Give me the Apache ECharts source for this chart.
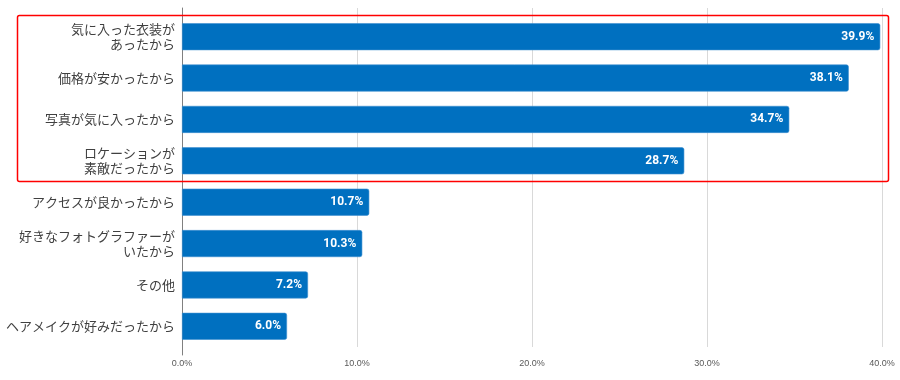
<!DOCTYPE html>
<html>
<head>
<meta charset="utf-8">
<script src="https://cdn.jsdelivr.net/npm/echarts@6/dist/echarts.min.js"></script>
<style>
html,body{margin:0;padding:0;background:#fff;}
#chart{width:900px;height:380px;}
</style>
</head>
<body>
<div id="chart"></div>
<script>
const categories = [
  "気に入った衣装が\nあったから",
  "価格が安かったから",
  "写真が気に入ったから",
  "ロケーションが\n素敵だったから",
  "アクセスが良かったから",
  "好きなフォトグラファーが\nいたから",
  "その他",
  "ヘアメイクが好みだったから"
];
const values = [39.9, 38.1, 34.7, 28.7, 10.7, 10.3, 7.2, 6.0];
const xTicks = [0, 10, 20, 30, 40];

const chart = echarts.init(document.getElementById('chart'), null, {renderer: 'canvas'});
const cjk = '"Noto Sans CJK JP", "Noto Sans", sans-serif';
const L = 182, R = 18;

chart.setOption({
  animation: false,
  backgroundColor: '#ffffff',
  grid: [
    {left: L, right: R, top: 16, bottom: 33, containLabel: false},
    {left: L, right: R, top: 8, bottom: 33, containLabel: false},
    {left: L, right: R, top: 8, bottom: 25, containLabel: false}
  ],
  xAxis: [
    {
      gridIndex: 0, type: 'value', min: xTicks[0], max: xTicks[xTicks.length-1], interval: 10,
      axisLine: {show: false}, axisTick: {show: false}, splitLine: {show: false},
      axisLabel: {
        margin: 12, fontSize: 9, color: '#595959',
        fontFamily: '"Liberation Sans Narrow", "Liberation Sans", sans-serif',
        formatter: v => v.toFixed(1) + '%'
      }
    },
    {
      gridIndex: 1, type: 'value', min: xTicks[0], max: xTicks[xTicks.length-1], interval: 10,
      axisLine: {show: false}, axisTick: {show: false}, axisLabel: {show: false},
      splitLine: {show: true, lineStyle: {color: '#d9d9d9', width: 1}}
    },
    {
      gridIndex: 2, type: 'value', min: 0, max: 40, show: false
    }
  ],
  yAxis: [
    {
      gridIndex: 0, type: 'category', data: categories, inverse: true,
      axisLine: {show: false}, axisTick: {show: false},
      axisLabel: {
        margin: 7, fontSize: 13, color: '#404040', fontFamily: cjk,
        lineHeight: 15, align: 'right'
      }
    },
    {
      gridIndex: 1, type: 'category', data: categories, show: false
    },
    {
      gridIndex: 2, type: 'category', data: categories,
      axisLine: {show: true, lineStyle: {color: '#808080', width: 1}},
      axisTick: {show: false}, axisLabel: {show: false}, splitLine: {show: false}
    }
  ],
  series: [{
    type: 'bar',
    xAxisIndex: 0, yAxisIndex: 0,
    data: values,
    barWidth: 27,
    itemStyle: {
      color: '#0070C0',
      borderColor: '#3d8fd0',
      borderWidth: 0.6,
      borderRadius: [0, 2, 2, 0]
    },
    label: {
      show: true,
      position: 'insideRight',
      offset: [-1, 0],
      color: '#ffffff',
      fontWeight: 'bold',
      fontSize: 12,
      fontFamily: 'Roboto, "Liberation Sans", sans-serif',
      formatter: p => p.value.toFixed(1) + '%'
    }
  }],
  graphic: [{
    type: 'rect',
    silent: true,
    z: 100,
    shape: {x: 17.5, y: 15.5, width: 871, height: 166, r: 2},
    style: {fill: 'none', stroke: '#ff0000', lineWidth: 1.5}
  }]
});
</script>
</body>
</html>
